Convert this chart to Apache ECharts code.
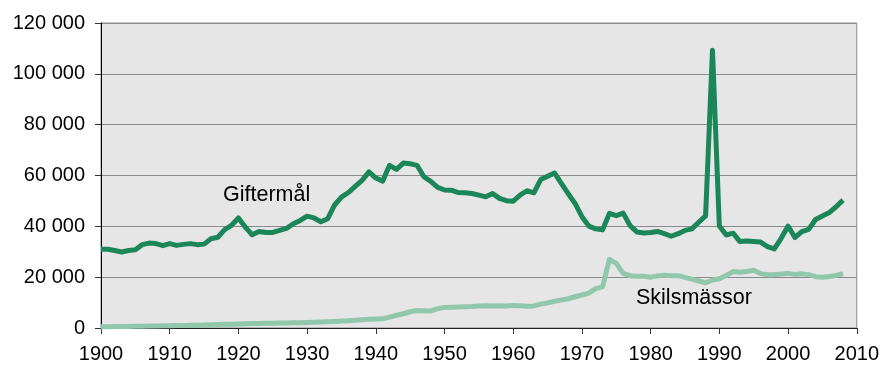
<!DOCTYPE html>
<html>
<head>
<meta charset="utf-8">
<script src="https://cdn.jsdelivr.net/npm/echarts@6/dist/echarts.min.js"></script>
<style>
  html, body { margin: 0; padding: 0; background: #fff; }
  #chart { width: 882px; height: 367px; }
</style>
</head>
<body>
<div id="chart"></div>
<script>
// Years 1900–2008, one value per year
const startYear = 1900;

// Giftermål (marriages) per year
const giftermal = [
  31000, 31000, 30500, 29900, 30500, 30800, 32800, 33400, 33200, 32400,
  33200, 32500, 32900, 33200, 32800, 33000, 35100, 35700, 38700, 40400,
  43300, 39700, 36700, 38000, 37600, 37600, 38400, 39200, 41000, 42300,
  44000, 43300, 41800, 43000, 48400, 51500, 53300, 55700, 58100, 61400,
  59000, 57800, 64000, 62400, 64900, 64600, 64000, 59500, 57700, 55300,
  54300, 54200, 53300, 53200, 52900, 52300, 51600, 52900, 51000, 50100,
  49900, 52300, 54000, 53200, 58400, 59700, 61000, 56900, 52900, 49000,
  43800, 40100, 39000, 38600, 45100, 44200, 45200, 40300, 37800, 37400,
  37600, 38000, 37100, 36100, 37100, 38400, 39000, 41600, 44100, 109300,
  40100, 36600, 37300, 34000, 34200, 34000, 33800, 32000, 31100, 35300,
  40100, 35600, 37900, 38800, 42700, 44100, 45400, 47700, 50300
];

// Skilsmässor (divorces) per year
const skilsmassor = [
  500, 520, 560, 600, 620, 650, 700, 750, 800, 850,
  900, 950, 1000, 1050, 1100, 1150, 1250, 1350, 1450, 1500,
  1600, 1700, 1750, 1800, 1850, 1900, 1950, 2000, 2050, 2100,
  2200, 2300, 2350, 2450, 2600, 2750, 2900, 3050, 3200, 3400,
  3500, 3600, 4300, 5000, 5600, 6400, 6900, 6800, 6700, 7600,
  8100, 8200, 8300, 8400, 8500, 8700, 8800, 8700, 8800, 8700,
  8900, 8800, 8600, 8700, 9400, 9900, 10500, 11000, 11500, 12300,
  13000, 13700, 15500, 16200, 27000, 25400, 21500, 20600, 20400, 20400,
  20000, 20500, 20800, 20600, 20600, 19900, 19200, 18500, 17800, 18900,
  19400, 20700, 22200, 21900, 22200, 22700, 21400, 21000, 21000, 21200,
  21500, 21100, 21300, 21000, 20200, 20000, 20300, 20700, 21400
];

// Series names, written next to their lines
const seriesNames = ['Giftermål', 'Skilsmässor'];

// Axis ranges
const xMin = 1900, xMax = 2010, xStep = 10;
const yMin = 0, yMax = 120000, yStep = 20000;

const toPairs = arr => arr.map((v, i) => [startYear + i, v]);

// "120000" -> "120 000"
const fmtThousands = v => String(v).replace(/\B(?=(\d{3})+(?!\d))/g, ' ');

const font = 'Arial, "Liberation Sans", sans-serif';

const chart = echarts.init(document.getElementById('chart'), null, { renderer: 'canvas' });

chart.setOption({
  animation: false,
  backgroundColor: '#ffffff',
  grid: {
    left: 101, right: 24, top: 23, bottom: 39,
    show: true,
    backgroundColor: '#e6e6e6',
    borderColor: '#8a8a8a',
    borderWidth: 1
  },
  xAxis: [{
    type: 'value',
    min: xMin, max: xMax, interval: xStep,
    axisLine: { show: true, onZero: false, lineStyle: { color: '#000', width: 1 } },
    axisTick: { show: true, inside: false, length: 6, lineStyle: { color: '#333' } },
    axisLabel: { color: '#000', fontSize: 20, fontFamily: font, margin: 16,
                 formatter: v => String(v) },
    splitLine: { show: false }
  }, {
    type: 'value',
    position: 'top',
    min: xMin, max: xMax,
    axisLine: { show: true, lineStyle: { color: '#222', width: 1 } },
    axisTick: { show: false },
    axisLabel: { show: false },
    splitLine: { show: false }
  }],
  yAxis: {
    type: 'value',
    min: yMin, max: yMax, interval: yStep,
    axisLine: { show: true, lineStyle: { color: '#000', width: 1 } },
    axisTick: { show: true, inside: false, length: 6, lineStyle: { color: '#333' } },
    axisLabel: { color: '#000', fontSize: 20, fontFamily: font, margin: 16,
                 formatter: fmtThousands },
    splitLine: { show: true, lineStyle: { color: '#8a8a8a', width: 1.2 } }
  },
  series: [{
    name: seriesNames[0],
    type: 'line',
    data: toPairs(giftermal),
    showSymbol: false,
    lineStyle: { color: '#1b8659', width: 5, join: 'round' },
    z: 3
  }, {
    name: seriesNames[1],
    type: 'line',
    data: toPairs(skilsmassor),
    showSymbol: false,
    lineStyle: { color: '#91c8ad', width: 5, join: 'round' },
    z: 2
  }],
  graphic: [{
    type: 'text',
    left: 223, top: 184,
    style: { text: seriesNames[0], fill: '#000', font: '21.5px ' + font }
  }, {
    type: 'text',
    left: 636, top: 287,
    style: { text: seriesNames[1], fill: '#000', font: '21.5px ' + font }
  }]
});
</script>
</body>
</html>
